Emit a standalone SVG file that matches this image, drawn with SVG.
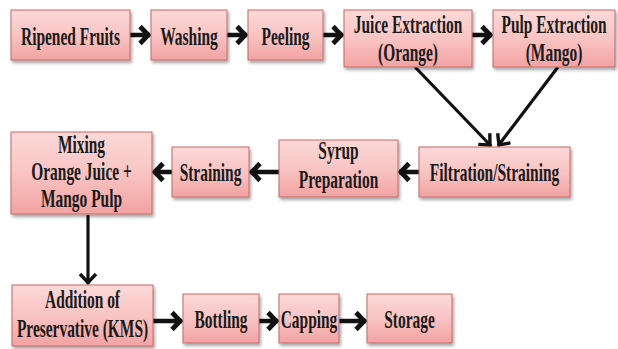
<svg xmlns="http://www.w3.org/2000/svg" width="618" height="349" viewBox="0 0 618 349">
<defs>
<linearGradient id="g" x1="0" y1="0" x2="0" y2="1">
<stop offset="0" stop-color="#fbd9d8"/>
<stop offset="0.5" stop-color="#f8c4c3"/>
<stop offset="1" stop-color="#f2a3a2"/>
</linearGradient>
<filter id="sh" x="-10%" y="-10%" width="130%" height="140%">
<feDropShadow dx="1.5" dy="2.5" stdDeviation="1.5" flood-color="#000" flood-opacity="0.35"/>
</filter>
<marker id="ah" markerUnits="userSpaceOnUse" viewBox="-13 -11 15 22" refX="0" refY="0" markerWidth="15" markerHeight="22" orient="auto">
<path d="M-10,-8.5 L-1.8,0 L-10,8.5" fill="none" stroke="#111" stroke-width="4.8" stroke-linejoin="miter" stroke-linecap="butt"/>
</marker>
<marker id="ah2" markerUnits="userSpaceOnUse" viewBox="-13 -11 15 22" refX="0" refY="0" markerWidth="15" markerHeight="22" orient="auto">
<path d="M-10,-8 L-1.5,0 L-10,8" fill="none" stroke="#111" stroke-width="3.4" stroke-linejoin="miter"/>
</marker>
</defs>
<style>
.box{fill:url(#g);stroke:#c26a67;stroke-width:1;filter:url(#sh)}
.t{font-weight:bold;font-size:24.5px;fill:#1a1a1a;text-anchor:middle}
.a{stroke:#111;stroke-width:4.5;fill:none;marker-end:url(#ah)}
.d{stroke:#111;stroke-width:3.2;fill:none;marker-end:url(#ah2)}
</style>
<g id="connectors">
<line class="a" x1="130" y1="35" x2="150" y2="35"/>
<line class="a" x1="227" y1="35" x2="247" y2="35"/>
<line class="a" x1="323" y1="35" x2="343" y2="35"/>
<line class="a" x1="472" y1="35" x2="492" y2="35"/>
<line class="d" x1="415" y1="67" x2="491" y2="146"/>
<line class="d" x1="558" y1="67" x2="498" y2="146"/>
<line class="a" x1="419" y1="172" x2="399" y2="172"/>
<line class="a" x1="279" y1="172" x2="250" y2="172"/>
<line class="a" x1="172" y1="172" x2="153" y2="172"/>
<line class="d" x1="88" y1="215" x2="88" y2="284"/>
<line class="a" x1="153" y1="321" x2="182" y2="321"/>
<line class="a" x1="259" y1="321" x2="278" y2="321"/>
<line class="a" x1="339" y1="321" x2="366" y2="321"/>
</g>
<g font-family="'Liberation Serif', 'Times New Roman', Times, serif">
<g id="ripened">
<rect class="box" x="11" y="10" width="119" height="50"/>
<text class="t" transform="translate(70.5,44.5) scale(0.63,1)">Ripened Fruits</text>
</g>
<g id="washing">
<rect class="box" x="151" y="10" width="76" height="50"/>
<text class="t" transform="translate(189,44.5) scale(0.63,1)">Washing</text>
</g>
<g id="peeling">
<rect class="box" x="248" y="10" width="75" height="50"/>
<text class="t" transform="translate(285.5,44.5) scale(0.63,1)">Peeling</text>
</g>
<g id="juice">
<rect class="box" x="344" y="10" width="128" height="57"/>
<text class="t" transform="translate(408,33) scale(0.63,1)">Juice Extraction</text>
<text class="t" transform="translate(408,61) scale(0.63,1)">(Orange)</text>
</g>
<g id="pulp">
<rect class="box" x="493" y="10" width="122" height="57"/>
<text class="t" transform="translate(554,33) scale(0.63,1)">Pulp Extraction</text>
<text class="t" transform="translate(554,61) scale(0.63,1)">(Mango)</text>
</g>
<g id="filtration">
<rect class="box" x="419" y="147" width="151" height="50"/>
<text class="t" transform="translate(494.5,180.5) scale(0.63,1)">Filtration/Straining</text>
</g>
<g id="syrup">
<rect class="box" x="279" y="140" width="119" height="57"/>
<text class="t" transform="translate(338.5,159) scale(0.63,1)">Syrup</text>
<text class="t" transform="translate(338.5,188) scale(0.63,1)">Preparation</text>
</g>
<g id="straining">
<rect class="box" x="172" y="147" width="77" height="50"/>
<text class="t" transform="translate(210.5,180.5) scale(0.63,1)">Straining</text>
</g>
<g id="mixing">
<rect class="box" x="11" y="132" width="141" height="82"/>
<text class="t" transform="translate(81.5,153) scale(0.63,1)">Mixing</text>
<text class="t" transform="translate(81.5,180) scale(0.63,1)">Orange Juice +</text>
<text class="t" transform="translate(81.5,207) scale(0.63,1)">Mango Pulp</text>
</g>
<g id="addition">
<rect class="box" x="12" y="285" width="141" height="61"/>
<text class="t" transform="translate(82.5,308) scale(0.63,1)">Addition of</text>
<text class="t" transform="translate(82.5,337) scale(0.63,1)">Preservative (KMS)</text>
</g>
<g id="bottling">
<rect class="box" x="183" y="294" width="76" height="49"/>
<text class="t" transform="translate(221,328) scale(0.63,1)">Bottling</text>
</g>
<g id="capping">
<rect class="box" x="279" y="294" width="60" height="49"/>
<text class="t" transform="translate(309,328) scale(0.63,1)">Capping</text>
</g>
<g id="storage">
<rect class="box" x="367" y="294" width="85" height="49"/>
<text class="t" transform="translate(409.5,328) scale(0.63,1)">Storage</text>
</g>
</g>
</svg>
